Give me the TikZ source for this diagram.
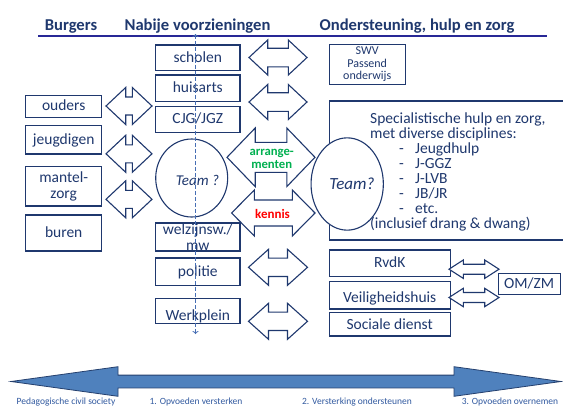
\documentclass[tikz,border=0pt]{standalone}
\usepackage{fontspec}
\setmainfont{Carlito}
\usetikzlibrary{arrows.meta,shapes.geometric}
\definecolor{navy}{RGB}{31,56,110}
\definecolor{hdline}{RGB}{40,40,150}
\definecolor{dashblue}{RGB}{70,110,180}
\definecolor{arrfill}{RGB}{79,129,189}
\definecolor{arrline}{RGB}{37,64,110}
\definecolor{lblblue}{RGB}{50,90,160}
\definecolor{grn}{RGB}{0,176,80}
\definecolor{rd}{RGB}{255,0,0}
\newcommand{\mydblarrow}[8]{%
  \draw[#8] ({#2-#4},{#3}) -- ({#2-#4+#5},{#3-#6}) -- ({#2-#4+#5},{#3-#7}) -- ({#2+#4-#5},{#3-#7}) -- ({#2+#4-#5},{#3-#6}) -- ({#2+#4},{#3}) -- ({#2+#4-#5},{#3+#6}) -- ({#2+#4-#5},{#3+#7}) -- ({#2-#4+#5},{#3+#7}) -- ({#2-#4+#5},{#3+#6}) -- cycle;
  \coordinate (#1) at (#2,#3);}
\tikzset{
 box/.style={draw=navy, line width=1.1pt, inner sep=0pt, text=navy, font=\fontsize{15.5}{16}\selectfont, text height=11pt, text depth=2.5pt},
 mbox/.style={draw=navy, line width=1.1pt, inner sep=0pt, text=navy, align=center},
 hdr/.style={text=navy, font=\bfseries\fontsize{16.6}{19}\selectfont, anchor=base, inner sep=0pt},
 barr/.style={draw=navy, line width=1.1pt, fill=white, line join=miter},
 txt/.style={text=navy, font=\fontsize{15.5}{16}\selectfont, inner sep=0pt, anchor=base west},
 bot/.style={text=lblblue, font=\fontsize{9.5}{10}\selectfont, anchor=base, inner sep=0pt},
}
\begin{document}
\begin{tikzpicture}[x=1pt,y=-1pt]
\useasboundingbox (0,0) rectangle (563,407);
\fill[white] (0,0) rectangle (563,407);
% headers
\node[hdr] (hB) at (71,30.5) {Burgers};
\node[hdr] (hN) at (197.5,30.5) {Nabije voorzieningen};
\node[hdr] (hO) at (417,30.5) {Ondersteuning, hulp en zorg};
\coordinate (hl1) at (38,36);
\coordinate (hl2) at (547,36);
\draw[hdline, line width=1.3pt] (hl1) -- (hl2);
% left column
\node[box, minimum width=76pt, minimum height=21.6pt] (ouders) at (63.7,106.5) {ouders};
\node[box, minimum width=76pt, minimum height=28.3pt] (jeugd) at (63.7,139.8) {jeugdigen};
\node[mbox, minimum width=76pt, minimum height=39.3pt, font=\fontsize{15.5}{16.7}\selectfont] (mantel) at (63.7,186.3) {mantel-\\zorg};
\node[box, minimum width=76pt, minimum height=36pt] (buren) at (63.7,233) {buren};
% middle column
\node[box, minimum width=84.3pt, minimum height=25.7pt] (scholen) at (197.8,57.8) {scholen};
\node[box, minimum width=84.3pt, minimum height=26.7pt] (huisarts) at (197.8,88.3) {huisarts};
\node[box, minimum width=84.3pt, minimum height=26pt] (cjg) at (197.8,119.7) {CJG/JGZ};
\node[draw=navy, line width=1.1pt, ellipse, minimum width=72pt, minimum height=78pt, inner sep=0pt] (teamL) at (191.7,178) {};
\node[text=navy, font=\itshape\fontsize{15}{16}\selectfont, inner sep=0pt] (teamLt) at (197.5,180.7) {Team ?};
\node[mbox, minimum width=84.3pt, minimum height=28pt, font=\fontsize{15.5}{16}\selectfont] (welz) at (197.8,237) {welzijnsw./\\mw};
\node[box, minimum width=84.3pt, minimum height=27.7pt] (politie) at (197.8,271.8) {politie};
\node[box, minimum width=84.3pt, minimum height=23.7pt, text height=22.5pt] (werk) at (197.8,310.8) {Werkplein};
% right column
\node[mbox, minimum width=75.7pt, minimum height=40.3pt, font=\fontsize{12}{12.3}\selectfont] (swv) at (367.2,64.2) {SWV\\Passend\\onderwijs};
\node[draw=navy, line width=1.1pt, minimum width=236.7pt, minimum height=139pt, inner sep=0pt] (spec) at (447.65,170.5) {};
\node[draw=navy, line width=1.1pt, fill=white, ellipse, minimum width=72.3pt, minimum height=92.3pt, inner sep=0pt] (teamR) at (347.2,184) {};
\node[text=navy, font=\itshape\fontsize{17}{18}\selectfont, inner sep=0pt] (teamRt) at (352,184) {Team?};
\node[txt] (s1) at (370,123) {Specialistische hulp en zorg,};
\node[txt] (s2) at (370,138.1) {met diverse disciplines:};
\node[txt] (s3) at (399,153.2) {\makebox[16pt][l]{-}Jeugdhulp};
\node[txt] (s4) at (399,168.3) {\makebox[16pt][l]{-}J-GGZ};
\node[txt] (s5) at (399,183.4) {\makebox[16pt][l]{-}J-LVB};
\node[txt] (s6) at (399,198.5) {\makebox[16pt][l]{-}JB/JR};
\node[txt] (s7) at (399,213.6) {\makebox[16pt][l]{-}etc.};
\node[txt] (s8) at (370,228.7) {(inclusief drang \& dwang)};
\node[box, minimum width=120.7pt, minimum height=26.7pt] (rvdk) at (389.7,263.3) {RvdK};
\node[box, minimum width=120.7pt, minimum height=27.3pt, text height=16pt] (veil) at (389.7,295.3) {Veiligheidshuis};
\node[box, minimum width=120.7pt, minimum height=23.3pt, text height=13.5pt] (soc) at (389.7,324.3) {Sociale dienst};
\node[box, minimum width=61.7pt, minimum height=21pt] (omzm) at (529.2,283.8) {OM/ZM};
% block arrows
\mydblarrow{aL1}{129}{106}{23}{19.7}{18.5}{9}{barr}
\mydblarrow{aL2}{129}{153.8}{23}{19.7}{18.5}{9}{barr}
\mydblarrow{aL3}{129}{199.3}{23}{19.7}{18.5}{9}{barr}
\mydblarrow{aM1}{278}{57.5}{29}{18.7}{17.5}{9.3}{barr}
\mydblarrow{aM2}{278}{102}{29}{18.7}{17.5}{9.3}{barr}
\mydblarrow{aArr}{271}{157.3}{44}{28.2}{29.3}{15}{barr}
\mydblarrow{aKen}{273.3}{213}{41.7}{22.7}{23}{13}{barr}
\mydblarrow{aP1}{278}{267.3}{29.5}{20}{18}{9.2}{barr}
\mydblarrow{aP2}{278}{321.3}{29.5}{20}{18}{9.2}{barr}
\mydblarrow{aR1}{474}{269.2}{25}{14.3}{9.2}{5}{barr}
\mydblarrow{aR2}{474}{297.5}{25}{14.3}{9.2}{5}{barr}
\node[text=grn, font=\bfseries\fontsize{12.7}{12.7}\selectfont, align=center, inner sep=0pt] (arrt) at (271.7,158.6) {arrange-\\menten};
\node[text=rd, font=\bfseries\fontsize{13}{13}\selectfont, inner sep=0pt] (kent) at (272.5,214.3) {kennis};
% dashed vertical
\coordinate (dtop) at (195.5,34);
\coordinate (dbot) at (195.5,334);
\draw[dashblue, line width=0.8pt, dash pattern=on 4pt off 2pt, {To[length=3pt,width=6pt]}-{To[length=3pt,width=6pt]}] (dtop) -- (dbot);
% bottom arrow
\mydblarrow{aBot}{286}{381.5}{275}{107}{14.8}{6.4}{fill=arrfill, draw=arrline, line width=0.8pt, line join=miter}
\node[bot] (b1) at (66,404.5) {Pedagogische civil society};
\node[bot] (b2) at (196,404.5) {1. Opvoeden versterken};
\node[bot] (b3) at (357,404.5) {2. Versterking ondersteunen};
\node[bot] (b4) at (510,404.5) {3. Opvoeden overnemen};
\end{tikzpicture}
\end{document}
